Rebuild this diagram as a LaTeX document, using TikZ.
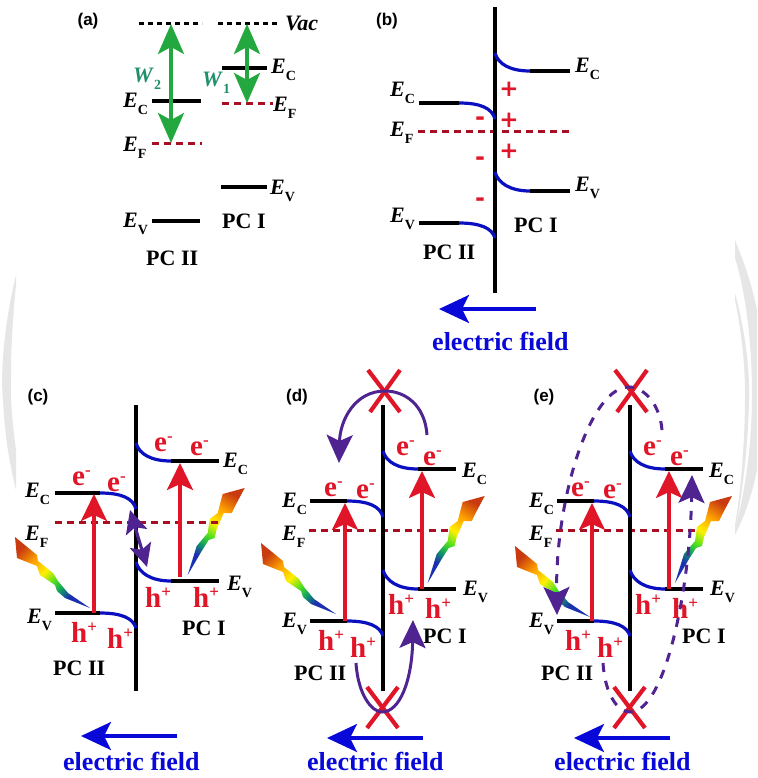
\documentclass[tikz,border=0pt]{standalone}
\usepackage{fontspec}
\setmainfont{Liberation Serif}
\newfontfamily\panelfont{Liberation Sans}
\newfontfamily\signfont{DejaVu Sans}
\usetikzlibrary{arrows.meta}
\definecolor{VBlack}{HTML}{000000}
\definecolor{VBand}{HTML}{0A10C0}
\definecolor{VField}{HTML}{0808D8}
\definecolor{VRed}{HTML}{E01528}
\definecolor{VFermi}{HTML}{A80F22}
\definecolor{VGreen}{HTML}{22A83E}
\definecolor{VTeal}{HTML}{1F9068}
\definecolor{VPurple}{HTML}{4F2490}
\definecolor{VWater}{HTML}{E6E6E6}
\definecolor{VBoltA}{HTML}{1A30B0}
\definecolor{VBoltB}{HTML}{10A060}
\definecolor{VBoltC}{HTML}{50E020}
\definecolor{VBoltD}{HTML}{FFF000}
\definecolor{VBoltE}{HTML}{FFA000}
\definecolor{VBoltF}{HTML}{C83A10}
\pgfdeclareverticalshading{boltshade}{100bp}{
    color(0bp)=(VBoltA); color(30bp)=(VBoltA); color(38bp)=(VBoltB);
    color(45bp)=(VBoltC); color(54bp)=(VBoltD); color(65bp)=(VBoltE); color(77bp)=(VBoltF); color(100bp)=(VBoltF)}
\newcommand{\lvltxt}[1]{\textit{E}\raisebox{-7pt}{\fontsize{14}{15}\selectfont\upshape #1}}
\newcommand{\wrk}[1]{\textit{W}\raisebox{-7pt}{\fontsize{14}{15}\selectfont\upshape #1}}
\newcommand{\carrier}[2]{#1\raisebox{10pt}{\fontsize{17}{17}\selectfont #2}}
\tikzset{
    bandlevel/.style={VBlack,line width=3.2pt},
    bandbend/.style={VBand,line width=3.2pt},
    fermi/.style={VFermi,line width=3pt,dash pattern=on 7pt off 5pt},
    vac/.style={VBlack,line width=3pt,dash pattern=on 5pt off 4pt},
    wall/.style={VBlack,line width=3.6pt},
    lvl/.style={inner sep=0,anchor=base west,font=\fontsize{22}{24}\selectfont\bfseries},
    pc/.style={inner sep=0,anchor=base west,font=\fontsize{22}{24}\selectfont\bfseries},
    car/.style={inner sep=0,anchor=base west,VRed,font=\fontsize{29}{31}\selectfont\bfseries},
    fieldtxt/.style={inner sep=0,anchor=base west,VField,font=\fontsize{26}{28}\selectfont\bfseries},
    plussign/.style={inner sep=0,VRed,font=\fontsize{23}{25}\selectfont\signfont\bfseries},
    minussign/.style={inner sep=0,VRed,font=\fontsize{24}{26}\selectfont\signfont\bfseries},
    panel/.style={inner sep=0,font=\fontsize{17}{19}\selectfont\panelfont\bfseries},
    gaparr/.style={VGreen,line width=3.6pt,{Stealth[length=30pt,width=26pt,inset=7pt]}-{Stealth[length=30pt,width=26pt,inset=7pt]}},
    excite/.style={VRed,line width=3.2pt,-{Stealth[length=27pt,width=26pt,inset=6pt]}},
    fieldarr/.style={VField,line width=3.2pt,-{Stealth[length=30pt,width=28pt,inset=7pt]}},
    hop/.style={VPurple,line width=3pt,-{Stealth[length=28pt,width=26pt,inset=6pt]}},
    hopdash/.style={hop,dash pattern=on 9pt off 9pt},
    crossline/.style={VRed,line width=4.2pt}
}
\begin{document}
\begin{tikzpicture}[x=1pt,y=-1pt]
\useasboundingbox (0,0) rectangle (757,778);
% watermark behind everything
\fill[VWater] (16,275) .. controls (5,320) and (0,370) .. (3,400) .. controls (5,440) and (10,465) .. (16,490) -- (16,450) .. controls (12,420) and (10,395) .. (11,375) .. controls (11,345) and (13,315) .. (16,285) -- cycle;
\fill[VWater] (735,293) .. controls (745,330) and (750,370) .. (749,400) .. controls (748,450) and (742,495) .. (735,532) -- (735,525) .. controls (741,490) and (745,440) .. (745,395) .. controls (745,360) and (741,330) .. (735,300) -- cycle;
\fill[VWater] (735,240) .. controls (745,265) and (752,285) .. (757,310) -- (757,470) .. controls (752,495) and (745,515) .. (735,535) -- (735,528) .. controls (746,490) and (752,440) .. (752,395) .. controls (752,340) and (745,290) .. (735,258) -- cycle;
% rainbow bolts
\foreach \tx/\ty in {187.7/575,427.7/583,675/583}
    {
        \shade[shading=boltshade,shading angle=-32,shift={(\tx,\ty)}] (0,0) -- (9,-29) -- (20,-42) -- (22,-56) -- (30,-62) -- (35,-81) -- (57,-87) -- (49,-72) -- (44,-62) -- (36,-62) -- (29,-46) -- (27,-37) -- (21,-35) -- (14,-24) -- cycle;
    }
\foreach \tx/\ty in {90/608,336/614,590/617}
    {
        \shade[shading=boltshade,shading angle=45,shift={(\tx,\ty)}] (0,0) -- (-25,-10) -- (-33,-17) -- (-35,-23) -- (-50,-33) -- (-53,-42) -- (-73,-50) -- (-75,-71) -- (-64,-62) -- (-53,-53) -- (-52,-47) -- (-37,-35) -- (-32,-27) -- (-22,-15) -- cycle;
    }
% panel a
\node[panel] (tagA) at (88,21) {(a)};
\coordinate (vacL) at (171,24);
\coordinate (vacR) at (247,24);
\coordinate (efL) at (171,143);
\coordinate (efR) at (247,103);
\draw[vac] (139,24) -- (202,24);
\draw[vac] (218,24) -- (280,24);
\draw[bandlevel] (152,101) -- (201,101);
\draw[bandlevel] (222,68) -- (267,68);
\draw[bandlevel] (221,187) -- (267,187);
\draw[bandlevel] (152,221) -- (200,221);
\draw[fermi] (152,144) -- (202,144);
\draw[fermi] (222,104) -- (273,104);
\draw[gaparr] (vacL) -- (efL);
\draw[gaparr] (vacR) -- (efR);
\node[lvl] (vacTxt) at (285,31) {\textit{Vac}};
\node[lvl,VTeal] (wTwo) at (133,83) {\wrk{2}};
\node[lvl,VTeal] (wOne) at (202,87) {\wrk{1}};
\node[lvl] (ecA) at (123,108) {\lvltxt{C}};
\node[lvl] (efA) at (123,152) {\lvltxt{F}};
\node[lvl] (evA) at (123,227) {\lvltxt{V}};
\node[lvl] (ecB) at (271,74) {\lvltxt{C}};
\node[lvl] (efB) at (273,112) {\lvltxt{F}};
\node[lvl] (evB) at (270,194) {\lvltxt{V}};
\node[pc] (pcOneA) at (222,228) {PC I};
\node[pc] (pcTwoA) at (146,265) {PC II};
% bands of panels b to e
\foreach \nm/\X/\dy/\vt/\wl/\wr/\fl/\fr in {b/495/-398/7/76/75/77/75,c/136/-8/405/81/83/81/86,d/383/0/405/73/73/74/65,e/630/0/405/73/73/74/65}
    {
        \draw[fermi] (\X-\fl,530+\dy) -- (\X+\fr,530+\dy);
        \draw[bandlevel] (\X-\wl,501+\dy) -- (\X-36,501+\dy);
        \draw[bandlevel] (\X-\wl,621+\dy) -- (\X-36,621+\dy);
        \draw[bandlevel] (\X+35,469+\dy) -- (\X+\wr,469+\dy);
        \draw[bandlevel] (\X+35,589+\dy) -- (\X+\wr,589+\dy);
        \draw[wall] (\X,\vt) -- (\X,\vt+286);
        \draw[bandbend] (\X-36,501+\dy) .. controls (\X-15,501+\dy) and (\X-3,506+\dy) .. (\X,517+\dy);
        \draw[bandbend] (\X-36,621+\dy) .. controls (\X-15,621+\dy) and (\X-3,626+\dy) .. (\X,636+\dy);
        \draw[bandbend] (\X,451+\dy) .. controls (\X+3,462+\dy) and (\X+15,469+\dy) .. (\X+35,469+\dy);
        \draw[bandbend] (\X,570+\dy) .. controls (\X+3,581+\dy) and (\X+15,589+\dy) .. (\X+35,589+\dy);
    }
% panel b
\node[panel] (tagB) at (387,21) {(b)};
\node[lvl] (ecLb) at (390,97) {\lvltxt{C}};
\node[lvl] (efLb) at (390,137) {\lvltxt{F}};
\node[lvl] (evLb) at (390,222) {\lvltxt{V}};
\node[lvl] (ecRb) at (575,73) {\lvltxt{C}};
\node[lvl] (evRb) at (575,191) {\lvltxt{V}};
\foreach \i/\y in {1/89,2/120,3/151}
    {
        \node[plussign] (plus\i) at (509,\y) {+};
    }
\foreach \i/\y in {1/121,2/161,3/202}
    {
        \node[minussign] (minus\i) at (480,\y) {-};
    }
\node[pc] (pcTwoB) at (423,259) {PC II};
\node[pc] (pcOneB) at (514,232) {PC I};
\coordinate (fldSb) at (536,309);
\coordinate (fldEb) at (439,309);
\draw[fieldarr] (fldSb) -- (fldEb);
\node[fieldtxt] (fldb) at (432,350) {electric field};
% panel c
\node[panel] (tagC) at (38,397) {(c)};
\node[lvl] (ecLc) at (25,497) {\lvltxt{C}};
\node[lvl] (efLc) at (25,540) {\lvltxt{F}};
\node[lvl] (evLc) at (27,623) {\lvltxt{V}};
\node[lvl] (ecRc) at (223,467) {\lvltxt{C}};
\node[lvl] (evRc) at (227,590) {\lvltxt{V}};
\coordinate (upAc) at (94,613);
\coordinate (upBc) at (94,494);
\coordinate (upCc) at (180,577);
\coordinate (upDc) at (180,463);
\draw[excite] (upAc) -- (upBc);
\draw[excite] (upCc) -- (upDc);
\node[car] (eAc) at (72,485) {\carrier{e}{-}};
\node[car] (eBc) at (107,491) {\carrier{e}{-}};
\node[car] (eCc) at (154,451) {\carrier{e}{-}};
\node[car] (eDc) at (190,455) {\carrier{e}{-}};
\node[car] (hAc) at (71,642) {\carrier{h}{+}};
\node[car] (hBc) at (107,648) {\carrier{h}{+}};
\node[car] (hCc) at (145,607) {\carrier{h}{+}};
\node[car] (hDc) at (193,607) {\carrier{h}{+}};
\node[pc] (pcTwoC) at (53,675) {PC II};
\node[pc] (pcOneC) at (182,635) {PC I};
\coordinate (tipUp) at (130,510);
\coordinate (tipDn) at (147,567);
\draw[VPurple,line width=3.2pt,{Stealth[length=23pt,width=22pt,inset=5pt]}-{Stealth[length=23pt,width=22pt,inset=5pt]}] (tipUp) -- (tipDn);
\coordinate (fldSc) at (177,736);
\coordinate (fldEc) at (81,736);
\draw[fieldarr] (fldSc) -- (fldEc);
\node[fieldtxt] (fldc) at (63,770) {electric field};
% common parts of panels d and e
\foreach \nm/\X in {d/383,e/630}
    {
        \node[lvl] (ecL\nm) at (\X-101,507) {\lvltxt{C}};
        \node[lvl] (efL\nm) at (\X-101,540) {\lvltxt{F}};
        \node[lvl] (evL\nm) at (\X-101,627) {\lvltxt{V}};
        \node[lvl] (ecR\nm) at (\X+79,477) {\lvltxt{C}};
        \node[lvl] (evR\nm) at (\X+80,595) {\lvltxt{V}};
        \coordinate (upA\nm) at (\X-38,621);
        \coordinate (upB\nm) at (\X-38,503);
        \coordinate (upC\nm) at (\X+39,589);
        \coordinate (upD\nm) at (\X+39,471);
        \draw[excite] (upA\nm) -- (upB\nm);
        \draw[excite] (upC\nm) -- (upD\nm);
        \node[car] (eA\nm) at (\X-59,496) {\carrier{e}{-}};
        \node[car] (eB\nm) at (\X-27,498) {\carrier{e}{-}};
        \node[car] (eC\nm) at (\X+13,455) {\carrier{e}{-}};
        \node[car] (eD\nm) at (\X+40,465) {\carrier{e}{-}};
        \node[car] (hA\nm) at (\X-65,650) {\carrier{h}{+}};
        \node[car] (hB\nm) at (\X-33,657) {\carrier{h}{+}};
        \node[car] (hC\nm) at (\X+5,614) {\carrier{h}{+}};
        \node[car] (hD\nm) at (\X+42,618) {\carrier{h}{+}};
        \node[pc] (pcTwo\nm) at (\X-89,680) {PC II};
        \draw[crossline] (\X-15,370) -- (\X+17,412);
        \draw[crossline] (\X+17,370) -- (\X-13,412);
        \draw[crossline] (\X-16,687) -- (\X+15,728);
        \draw[crossline] (\X+15,687) -- (\X-16,728);
        \coordinate (fldS\nm) at (\X+40,738);
        \coordinate (fldE\nm) at (\X-56,738);
        \draw[fieldarr] (fldS\nm) -- (fldE\nm);
        \node[fieldtxt] (fld\nm) at (\X-76,770) {electric field};
    }
% panel d
\node[panel] (tagD) at (297,397) {(d)};
\node[pc] (pcOned) at (423,643) {PC I};
\draw[hop] (427,435) .. controls (425,405) and (405,391) .. (385,391) .. controls (355,391) and (340,420) .. (339,463);
\draw[hop] (356,663) .. controls (358,695) and (372,712) .. (382,712) .. controls (400,712) and (412,680) .. (413,620);
% panel e
\node[panel] (tagE) at (544,397) {(e)};
\node[pc] (pcOnee) at (682,643) {PC I};
\draw[hopdash] (662,430) .. controls (660,405) and (645,388) .. (630,387) .. controls (590,385) and (555,500) .. (557,615);
\draw[hopdash] (603,663) .. controls (605,695) and (618,712) .. (630,712) .. controls (665,712) and (690,590) .. (692,475);
\end{tikzpicture}
\end{document}
